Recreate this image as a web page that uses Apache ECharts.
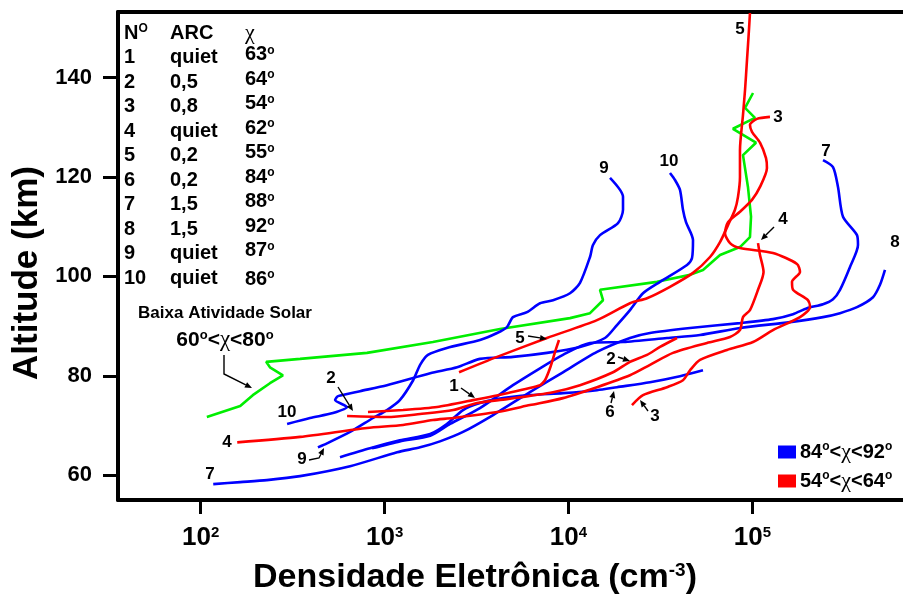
<!DOCTYPE html>
<html>
<head>
<meta charset="utf-8">
<script src="https://cdn.jsdelivr.net/npm/echarts@6/dist/echarts.min.js"></script>
<style>html,body{margin:0;padding:0;background:#fff}#chart{width:903px;height:596px}</style>
</head>
<body>
<div id="chart"></div>
<script>
// profiles: [electron density (cm-3), altitude (km)]
const lowSolar = [[108,71.7],[164,73.9],[192,76.1],[238,78.5],[280,80.1],[238,81.7],[227,82.8],[347,83.4],[802,84.6],[1830,86.8],[4240,89.4],[10190,91.6],[13090,92.6],[15410,95.2],[14840,97.3],[30280,98.9],[45800,100.3],[53900,101.3],[66700,104.3],[85600,105.9],[97000,107.9],[98300,112.0],[94600,118.0],[88900,124.4],[104600,126.9],[78400,129.7],[103300,131.9],[91200,133.9],[100800,136.9]];

const prof6 = [[572,63.6],[833,65.4],[1210,67.0],[1770,68.3],[2180,70.3],[2670,73.1],[3300,74.5],[4090,75.3],[6170,76.1],[9330,76.5],[14290,77.1],[18350,77.7],[27750,78.7],[40390,79.9],[53870,81.1]];
const prof7 = [[117,58.2],[164,58.6],[229,59.0],[347,59.8],[649,61.8],[1170,64.6],[1560,65.6],[2000,66.8],[2670,68.7],[3890,72.1],[6170,76.7],[9330,80.7],[14290,84.8],[21600,87.6],[27750,88.6],[45800,89.6],[85600,90.6],[129400,91.4],[166300,92.4],[198200,93.6],[242100,94.4],[274400,95.4],[299500,97.3],[339500,101.9],[375200,106.3],[370500,108.3],[311000,112.0],[292100,118.0],[274400,122.0],[242100,123.4]];
const prof8 = [[854,65.4],[1210,66.8],[1770,67.9],[2270,70.3],[3300,73.5],[4990,78.1],[7000,81.5],[9330,84.2],[13090,86.6],[19790,86.8],[34320,87.6],[51900,88.2],[85600,89.6],[160200,90.8],[242100,91.8],[299500,92.6],[370500,93.8],[452700,95.8],[494200,98.3],[526000,101.3]];
const prof9 = [[434,65.6],[486,66.4],[649,68.7],[865,71.5],[1030,73.1],[1210,75.1],[1430,79.1],[1560,82.2],[1720,84.2],[2180,85.6],[3300,87.2],[4090,88.6],[4630,89.8],[4990,91.8],[5950,92.8],[7000,94.6],[8240,95.2],[10190,96.6],[11550,98.7],[13090,103.9],[13590,106.3],[14840,108.3],[18590,110.7],[19790,113.4],[19790,116.0],[16820,119.8]];
const prof10 = [[295,70.3],[393,71.5],[524,72.5],[625,73.7],[538,75.1],[558,75.9],[735,76.9],[1030,78.1],[1770,80.5],[2480,81.7],[3300,83.4],[4990,83.8],[7640,84.6],[11550,85.8],[15790,87.6],[18350,90.2],[21600,93.2],[25420,96.6],[31450,98.9],[44110,102.3],[46960,103.7],[47540,107.3],[43550,110.9],[41930,113.4],[40390,117.4],[37940,119.4],[35630,120.8]];

const prof1 = [[812,72.7],[1260,73.1],[1930,73.7],[3030,75.1],[4630,76.5],[7000,78.1],[7450,79.1],[7930,81.5],[8450,84.8],[8880,87.2]];
const prof2 = [[625,71.9],[1030,71.7],[1560,72.3],[2360,73.1],[3180,74.5],[4630,75.3],[8240,76.7],[11550,78.1],[17460,80.7],[21600,82.8],[26730,84.2],[31450,85.8],[38900,87.6]];
const prof3 = [[22140,74.1],[25420,76.1],[34320,77.7],[41930,79.1],[45800,81.1],[51900,83.2],[72780,85.2],[100800,86.8],[129400,89.2],[181500,91.8],[205700,93.8],[200600,95.2],[166300,97.3],[164200,98.9],[181500,100.9],[174800,102.5],[129400,104.7],[85600,105.7],[75560,106.7],[70960,108.7],[73690,110.9],[85600,113.0],[99500,115.4],[110000,118.0],[120000,121.8],[118600,123.8],[110000,126.9],[99500,129.1],[97000,130.5],[105900,131.7],[124600,132.1]];
const prof4 = [[158,66.6],[347,67.7],[802,69.5],[1260,70.1],[1830,71.1],[2360,71.5],[4090,72.7],[6170,74.1],[9330,75.5],[14290,77.7],[21600,80.1],[27750,82.2],[37000,84.6],[56660,86.6],[75560,87.8],[85600,89.2],[88900,91.8],[97000,93.2],[107300,97.3],[115000,100.9],[110000,104.3],[107300,106.7]];
const prof5 = [[2540,80.7],[4090,83.8],[7640,87.6],[14290,91.2],[21600,94.6],[26730,95.6],[35630,97.9],[47540,100.7],[58830,103.9],[66660,106.9],[73690,110.3],[80400,113.4],[83500,116.0],[85600,120.0],[85600,125.4],[88900,132.5],[91200,137.5],[93500,143.6],[95800,149.6],[97000,153.0]];

// table of profiles
const profNo = ['1','2','3','4','5','6','7','8','9','10'];
const arcVals = ['quiet','0,5','0,8','quiet','0,2','0,2','1,5','1,5','quiet','quiet'];
const chiVals = [63,64,54,62,55,84,88,92,87,86];

const xTicks = [2,3,4,5];          // log10 density
const yTicks = [60,80,100,120,140];

const F = '"Liberation Sans", Arial, sans-serif';
const SERIF = '"Liberation Serif", "DejaVu Serif", serif';
const BLUE = '#0000ff', RED = '#ff0000', GREEN = '#00ee00';
const X_MIN = 1.5503, X_MAX = 5.819;

const lg = arr => arr.map(p => [Math.log10(p[0]), p[1]]);
function prof(name, data, color, smooth) {
  return {
    name: name, type: 'line', data: lg(data), showSymbol: false, smooth: smooth,
    lineStyle: { color: color, width: 2.6 }, itemStyle: { color: color }, silent: true
  };
}

const BLUE_NAME = 'b', RED_NAME = 'r';
const series = [
  prof('g', lowSolar, GREEN, false),
  prof(BLUE_NAME, prof7, BLUE, 0.25),
  prof(BLUE_NAME, prof8, BLUE, 0.25),
  prof(BLUE_NAME, prof9, BLUE, 0.25),
  prof(BLUE_NAME, prof10, BLUE, 0.25),
  prof(BLUE_NAME, prof6, BLUE, 0.25),
  prof(RED_NAME, prof1, RED, 0.2),
  prof(RED_NAME, prof2, RED, 0.25),
  prof(RED_NAME, prof3, RED, 0.25),
  prof(RED_NAME, prof4, RED, 0.25),
  prof(RED_NAME, prof5, RED, 0.25)
];

const degRich = size => ({
  t: { font: 'bold ' + size + 'px ' + F, fill: '#000' },
  o: { font: 'bold ' + Math.round(size * 0.62) + 'px ' + F, verticalAlign: 'top', lineHeight: Math.round(size * 0.5) },
  c: { font: Math.round(size * 1.1) + 'px ' + SERIF }
});

const g = [];
function txt(x, y, text, size) {
  g.push({
    type: 'text', x: x, y: y, z: 100,
    style: { text: text, font: 'bold ' + size + 'px ' + F, fill: '#000', align: 'center', verticalAlign: 'middle' }
  });
}
function txtL(x, y, text, size) {
  g.push({
    type: 'text', x: x, y: y, z: 100,
    style: { text: text, font: 'bold ' + size + 'px ' + F, fill: '#000', align: 'left', verticalAlign: 'middle' }
  });
}
function arrow(pts) {
  const n = pts.length;
  const [x1, y1] = pts[n - 2], [x2, y2] = pts[n - 1];
  const a = Math.atan2(y2 - y1, x2 - x1), L = 7, W = 3;
  const bx = x2 - L * Math.cos(a), by = y2 - L * Math.sin(a);
  const line = pts.slice(0, n - 1).concat([[bx, by]]);
  g.push({ type: 'polyline', z: 100, shape: { points: line }, style: { stroke: '#000', lineWidth: 1.4, fill: null } });
  g.push({ type: 'polygon', z: 100, shape: { points: [[x2, y2], [bx + W * Math.sin(a), by - W * Math.cos(a)], [bx - W * Math.sin(a), by + W * Math.cos(a)]] }, style: { fill: '#000' } });
}

// table
const TS = 20;
g.push({ type: 'text', x: 124, y: 33, z: 100, style: { text: '{t|N}{o|O}', rich: degRich(TS), align: 'left', verticalAlign: 'middle' } });
txtL(170, 33, 'ARC', TS);
g.push({ type: 'text', x: 245, y: 33, z: 100, style: { text: '{c|χ}', rich: degRich(TS), align: 'left', verticalAlign: 'middle' } });
profNo.forEach((n, i) => {
  const y = 57.5 + 24.5 * i;
  txtL(124, y, n, TS);
  txtL(170, y, arcVals[i], TS);
  g.push({ type: 'text', x: 245, y: y - (i === 9 ? -1 : 3), z: 100, style: { text: '{t|' + chiVals[i] + '}{o|o}', rich: degRich(TS), align: 'left', verticalAlign: 'middle' } });
});

// low solar activity note
txt(225, 313, 'Baixa Atividade Solar', 17);
g.push({ type: 'text', x: 225, y: 340, z: 100, style: { text: '{t|60}{o|o}{t|<}{c|χ}{t|<80}{o|o}', rich: degRich(21), align: 'center', verticalAlign: 'middle' } });
arrow([[224, 355], [224, 374], [252, 388]]);

// profile labels
const LS = 17;
[[740, 29, '5'], [778, 117, '3'], [604, 168, '9'], [669, 161, '10'], [826, 151, '7'], [783, 219, '4'], [895, 242, '8'],
 [520, 338, '5'], [611, 359, '2'], [610, 412, '6'], [655, 416, '3'], [454, 386, '1'], [331, 378, '2'],
 [287, 412, '10'], [227, 442, '4'], [302, 459, '9'], [210, 474, '7']].forEach(l => txt(l[0], l[1], l[2], LS));
arrow([[461, 388], [475, 398]]);
arrow([[338, 387], [353, 411]]);
arrow([[528, 336], [547, 339]]);
arrow([[618, 357], [630, 361]]);
arrow([[611, 403], [614, 391]]);
arrow([[648, 411], [640, 400]]);
arrow([[774, 227], [761, 240]]);
arrow([[309, 460], [319, 458], [324, 448]]);

// axis titles
g.push({ type: 'text', x: 27, y: 273, rotation: Math.PI / 2, z: 100,
  style: { text: 'Altitude (km)', font: 'bold 35px ' + F, fill: '#000', align: 'center', verticalAlign: 'middle' } });
g.push({ type: 'text', x: 475, y: 578, z: 100,
  style: { text: '{t|Densidade Eletrônica (cm}{s|-3}{t|)}', align: 'center', verticalAlign: 'middle',
    rich: { t: { font: 'bold 34px ' + F, fill: '#000' }, s: { font: 'bold 19px ' + F, fill: '#000', verticalAlign: 'top', lineHeight: 16 } } } });

const legendText = { b: ['84', '92'], r: ['54', '64'] };

const chart = echarts.init(document.getElementById('chart'));
chart.setOption({
  animation: false,
  backgroundColor: '#fff',
  grid: { left: 118, top: 12, right: 0, bottom: 96 },
  xAxis: [{
    type: 'value', min: X_MIN, max: X_MAX,
    splitLine: { show: false },
    axisLine: { lineStyle: { color: '#000', width: 4 } },
    axisTick: { customValues: xTicks, length: 14, lineStyle: { color: '#000', width: 3 } },
    axisLabel: {
      customValues: xTicks, margin: 25,
      formatter: v => '{b|10}{s|' + v + '}',
      rich: {
        b: { fontFamily: F, fontWeight: 'bold', fontSize: 26, color: '#000' },
        s: { fontFamily: F, fontWeight: 'bold', fontSize: 15, color: '#000', verticalAlign: 'top', lineHeight: 12 }
      }
    }
  }, {
    type: 'value', position: 'top', min: X_MIN, max: X_MAX,
    splitLine: { show: false }, axisTick: { show: false }, axisLabel: { show: false },
    axisLine: { onZero: false, lineStyle: { color: '#000', width: 4 } }
  }],
  yAxis: {
    type: 'value', min: 55, max: 153.2,
    splitLine: { show: false },
    axisLine: { lineStyle: { color: '#000', width: 4 } },
    axisTick: { customValues: yTicks, length: 15, lineStyle: { color: '#000', width: 3 } },
    axisLabel: { customValues: yTicks, margin: 26, color: '#000', fontFamily: F, fontWeight: 'bold', fontSize: 22 }
  },
  legend: {
    data: [BLUE_NAME, RED_NAME], left: 778, top: 441, orient: 'vertical', padding: 0,
    itemWidth: 18, itemHeight: 13, itemGap: 7, icon: 'rect', selectedMode: false,
    formatter: n => '{t|' + legendText[n][0] + '}{o|o}{t|<}{c|χ}{t|<' + legendText[n][1] + '}{o|o}',
    textStyle: {
      lineHeight: 22, padding: [0, 0, 0, -1],
      rich: {
        t: { fontFamily: F, fontWeight: 'bold', fontSize: 20, color: '#000' },
        o: { fontFamily: F, fontWeight: 'bold', fontSize: 12, color: '#000', verticalAlign: 'top', lineHeight: 10 },
        c: { fontFamily: SERIF, fontSize: 22, color: '#000' }
      }
    }
  },
  series: series,
  graphic: g
});
</script>
</body>
</html>
